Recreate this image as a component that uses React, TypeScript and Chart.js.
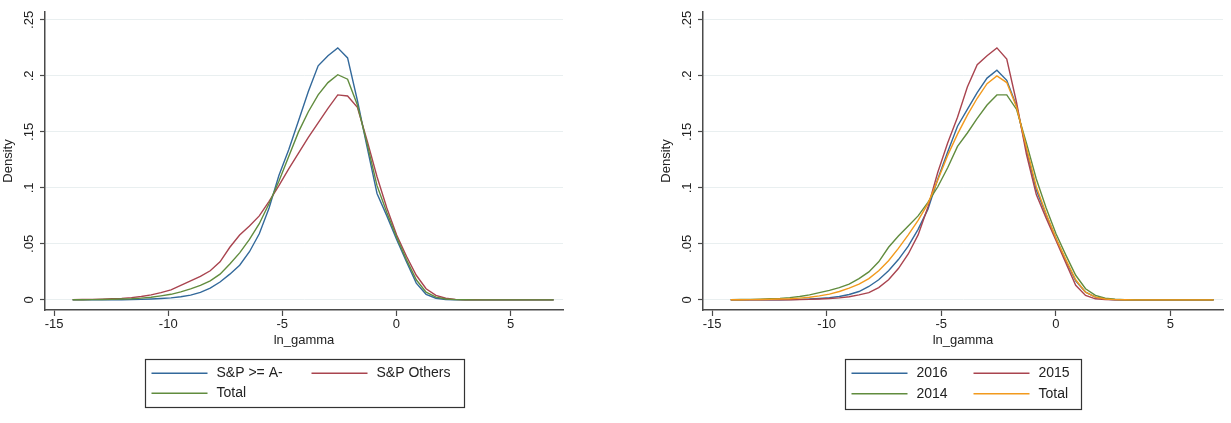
import React, { useEffect, useRef } from "react";
import { Chart, registerables } from "chart.js";

Chart.register(...registerables);

// ---------- data ----------
const xGrid = [
  -14.19, -13.76, -13.33, -12.9, -12.47, -12.04, -11.61, -11.18, -10.75, -10.32,
  -9.88, -9.45, -9.02, -8.59, -8.16, -7.73, -7.3, -6.87, -6.44, -6.01,
  -5.58, -5.15, -4.72, -4.29, -3.86, -3.43, -3.0, -2.57, -2.14, -1.71,
  -1.28, -0.85, -0.42, 0.01, 0.44, 0.87, 1.3, 1.73, 2.16, 2.59,
  3.02, 3.45, 3.88, 4.31, 4.74, 5.17, 5.6, 6.03, 6.46, 6.89,
];

// Left panel
const spHigh = [
  0, 0, 0, 0.0001, 0.0001, 0.0002, 0.0003, 0.0005, 0.0008, 0.0012,
  0.0018, 0.0028, 0.0043, 0.0068, 0.0105, 0.016, 0.023, 0.031, 0.043, 0.059,
  0.082, 0.111, 0.134, 0.16, 0.186, 0.209, 0.218, 0.225, 0.216, 0.178,
  0.136, 0.095, 0.075, 0.054, 0.034, 0.015, 0.005, 0.0015, 0.0004, 0.0001,
  0, 0, 0, 0, 0, 0, 0, 0, 0, 0,
];
const spOthers = [
  0.0003, 0.0004, 0.0005, 0.0007, 0.001, 0.0014, 0.002, 0.003, 0.0045, 0.0065,
  0.009, 0.013, 0.017, 0.021, 0.026, 0.034, 0.047, 0.058, 0.066, 0.075,
  0.088, 0.102, 0.117, 0.131, 0.145, 0.158, 0.171, 0.183, 0.182, 0.172,
  0.142, 0.11, 0.082, 0.058, 0.039, 0.022, 0.01, 0.004, 0.0015, 0.0005,
  0.0002, 0.0001, 0, 0, 0, 0, 0, 0, 0, 0,
];
const totalLeft = [
  0.0001, 0.0002, 0.0003, 0.0004, 0.0006, 0.0008, 0.0011, 0.0016, 0.0024, 0.0036,
  0.005, 0.0072, 0.0098, 0.013, 0.017, 0.023, 0.032, 0.042, 0.054, 0.068,
  0.086, 0.106, 0.128, 0.15, 0.168, 0.183, 0.194, 0.201, 0.197, 0.174,
  0.139, 0.102, 0.078, 0.056, 0.036, 0.018, 0.007, 0.0025, 0.0008, 0.0003,
  0.0001, 0, 0, 0, 0, 0, 0, 0, 0, 0,
];

// Right panel
const y2016 = [
  0, 0, 0, 0.0001, 0.0001, 0.0002, 0.0003, 0.0005, 0.0008, 0.0013,
  0.002, 0.003, 0.0048, 0.0075, 0.012, 0.018, 0.026, 0.036, 0.048, 0.063,
  0.081, 0.108, 0.132, 0.155, 0.17, 0.185, 0.198, 0.205, 0.196, 0.173,
  0.134, 0.098, 0.076, 0.055, 0.035, 0.017, 0.007, 0.0025, 0.0008, 0.0002,
  0, 0, 0, 0, 0, 0, 0, 0, 0, 0,
];
const y2015 = [
  0, 0, 0, 0, 0.0001, 0.0001, 0.0002, 0.0003, 0.0005, 0.0008,
  0.0012, 0.0018, 0.0028, 0.0045, 0.0065, 0.011, 0.018, 0.028, 0.041, 0.058,
  0.083, 0.114, 0.14, 0.163, 0.19, 0.21, 0.218, 0.225, 0.215, 0.176,
  0.13, 0.094, 0.073, 0.053, 0.033, 0.013, 0.004, 0.001, 0.0003, 0.0001,
  0, 0, 0, 0, 0, 0, 0, 0, 0, 0,
];
const y2014 = [
  0.0003, 0.0004, 0.0005, 0.0007, 0.001, 0.0014, 0.002, 0.003, 0.0045, 0.0065,
  0.0085, 0.011, 0.014, 0.019, 0.025, 0.034, 0.047, 0.057, 0.066, 0.075,
  0.087, 0.101, 0.118, 0.137, 0.149, 0.162, 0.174, 0.183, 0.183, 0.17,
  0.14, 0.108, 0.082, 0.059, 0.04, 0.022, 0.01, 0.004, 0.0015, 0.0006,
  0.0002, 0.0001, 0, 0, 0, 0, 0, 0, 0, 0,
];
const totalRight = [
  0.0001, 0.0002, 0.0003, 0.0004, 0.0006, 0.0008, 0.0011, 0.0016, 0.0024, 0.0036,
  0.0052, 0.0075, 0.0105, 0.014, 0.019, 0.026, 0.035, 0.046, 0.058, 0.071,
  0.086, 0.107, 0.129, 0.148, 0.165, 0.18, 0.193, 0.2, 0.194, 0.172,
  0.136, 0.101, 0.077, 0.055, 0.036, 0.018, 0.007, 0.0025, 0.0008, 0.0003,
  0.0001, 0, 0, 0, 0, 0, 0, 0, 0, 0,
];

const leftLabels = ["S&P >= A-", "S&P Others", "Total"];
const rightLabels = ["2016", "2015", "2014", "Total"];
const xTicks = [-15, -10, -5, 0, 5];
const yTicks = [0, 0.05, 0.1, 0.15, 0.2, 0.25];
const yTickLabels = ["0", ".05", ".1", ".15", ".2", ".25"];
const xTitle = "ln_gamma";
const yTitle = "Density";

// ---------- styles ----------
const FONT = "'Liberation Sans', Arial, sans-serif";
const BLUE = "#33699b";
const RED = "#a9444f";
const GREEN = "#618c3e";
const ORANGE = "#f29a1d";
const AXIS = "#4a4a4a";
const TEXT = "#222222";

const legendPlugin = {
  id: "stataLegend",
  afterDraw(chart: any, _args: any, opts: any) {
    const { ctx, chartArea } = chart;
    const cx = (chartArea.left + chartArea.right) / 2;
    const left = Math.round(cx - opts.boxWidth / 2) + 0.5;
    const top = opts.top + 0.5;
    ctx.save();
    ctx.strokeStyle = "#333";
    ctx.lineWidth = 1.2;
    ctx.strokeRect(left, top, opts.boxWidth, opts.boxHeight);
    ctx.font = `${opts.fontSize}px ${FONT}`;
    ctx.textBaseline = "middle";
    ctx.textAlign = "left";
    chart.data.datasets.forEach((ds: any, i: number) => {
      const row = Math.floor(i / 2);
      const col = i % 2;
      const y = top + opts.rowY[row];
      const x0 = left + opts.colStarts[col];
      ctx.strokeStyle = ds.borderColor;
      ctx.lineWidth = 1.4;
      ctx.beginPath();
      ctx.moveTo(x0, y);
      ctx.lineTo(x0 + opts.lineLen, y);
      ctx.stroke();
      ctx.fillStyle = TEXT;
      ctx.fillText(ds.label, x0 + opts.lineLen + opts.textGap, y);
    });
    ctx.restore();
  },
};

function makeConfig(
  series: number[][],
  labels: string[],
  colors: string[],
  rightPad: number,
  legendOpts: any
): any {
  return {
    type: "line",
    data: {
      datasets: series.map((s, i) => ({
        label: labels[i],
        data: xGrid.map((x, j) => ({ x, y: s[j] })),
        borderColor: colors[i],
        backgroundColor: colors[i],
        borderWidth: 1.4,
        pointRadius: 0,
        tension: 0,
        fill: false,
        order: series.length - i,
      })),
    },
    options: {
      animation: false,
      responsive: false,
      maintainAspectRatio: false,
      devicePixelRatio: 1,
      layout: { padding: { left: 0, top: 12, right: rightPad, bottom: 68 } },
      plugins: {
        legend: { display: false },
        tooltip: { enabled: false },
        stataLegend: legendOpts,
      },
      scales: {
        x: {
          type: "linear",
          min: -15.4,
          max: 7.3,
          afterBuildTicks: (s: any) => {
            s.ticks = xTicks.map((v) => ({ value: v }));
          },
          afterFit: (s: any) => {
            s.height = 45;
          },
          grid: {
            display: true,
            drawOnChartArea: false,
            drawTicks: true,
            tickLength: 6,
            tickColor: AXIS,
            tickWidth: 1.2,
          },
          border: { display: true, color: AXIS, width: 1.5 },
          ticks: {
            font: { family: FONT, size: 13 },
            color: TEXT,
            padding: 1,
            maxRotation: 0,
            minRotation: 0,
            autoSkip: false,
            callback: (v: any) => String(v),
          },
          title: {
            display: true,
            text: xTitle,
            font: { family: FONT, size: 13 },
            color: TEXT,
            padding: { top: 0, bottom: 7 },
          },
        },
        y: {
          type: "linear",
          min: -0.009,
          max: 0.257,
          afterBuildTicks: (s: any) => {
            s.ticks = yTicks.map((v) => ({ value: v }));
          },
          afterFit: (s: any) => {
            s.width = 45;
          },
          grid: {
            display: true,
            drawOnChartArea: true,
            drawTicks: true,
            tickLength: 5,
            color: "#e9eff0",
            lineWidth: 1,
            tickColor: AXIS,
            tickWidth: 1.2,
          },
          border: { display: true, color: AXIS, width: 1.5 },
          ticks: {
            font: { family: FONT, size: 13 },
            color: TEXT,
            padding: 2,
            minRotation: 90,
            maxRotation: 90,
            crossAlign: "center",
            autoSkip: false,
            callback: (_v: any, i: number) => yTickLabels[i],
          },
          title: {
            display: true,
            text: yTitle,
            font: { family: FONT, size: 13 },
            color: TEXT,
            padding: { top: 1, bottom: 0 },
          },
        },
      },
    },
    plugins: [legendPlugin],
  };
}

function Panel(props: {
  left: number;
  width: number;
  series: number[][];
  labels: string[];
  colors: string[];
  rightPad: number;
  legendOpts: any;
}) {
  const ref = useRef<HTMLCanvasElement | null>(null);
  useEffect(() => {
    if (!ref.current) return;
    const chart = new Chart(
      ref.current,
      makeConfig(props.series, props.labels, props.colors, props.rightPad, props.legendOpts)
    );
    return () => chart.destroy();
  }, []);
  return (
    <canvas
      ref={ref}
      width={props.width}
      height={423}
      style={{ position: "absolute", left: props.left, top: 0, width: props.width, height: 423 }}
    />
  );
}

export default function App() {
  return (
    <div
      style={{
        position: "absolute",
        left: 0,
        top: 0,
        width: 1231,
        height: 423,
        background: "#ffffff",
        overflow: "hidden",
      }}
    >
      <Panel
        left={0}
        width={615}
        series={[spHigh, spOthers, totalLeft]}
        labels={leftLabels}
        colors={[BLUE, RED, GREEN]}
        rightPad={52}
        legendOpts={{
          top: 359,
          boxWidth: 319,
          boxHeight: 48,
          colStarts: [6, 166],
          rowY: [13.7, 33.7],
          lineLen: 56,
          textGap: 9,
          fontSize: 14,
        }}
      />
      <Panel
        left={658}
        width={573}
        series={[y2016, y2015, y2014, totalRight]}
        labels={rightLabels}
        colors={[BLUE, RED, GREEN, ORANGE]}
        rightPad={8}
        legendOpts={{
          top: 359,
          boxWidth: 236,
          boxHeight: 50,
          colStarts: [6, 128],
          rowY: [13.7, 34.3],
          lineLen: 56,
          textGap: 9,
          fontSize: 14,
        }}
      />
    </div>
  );
}
